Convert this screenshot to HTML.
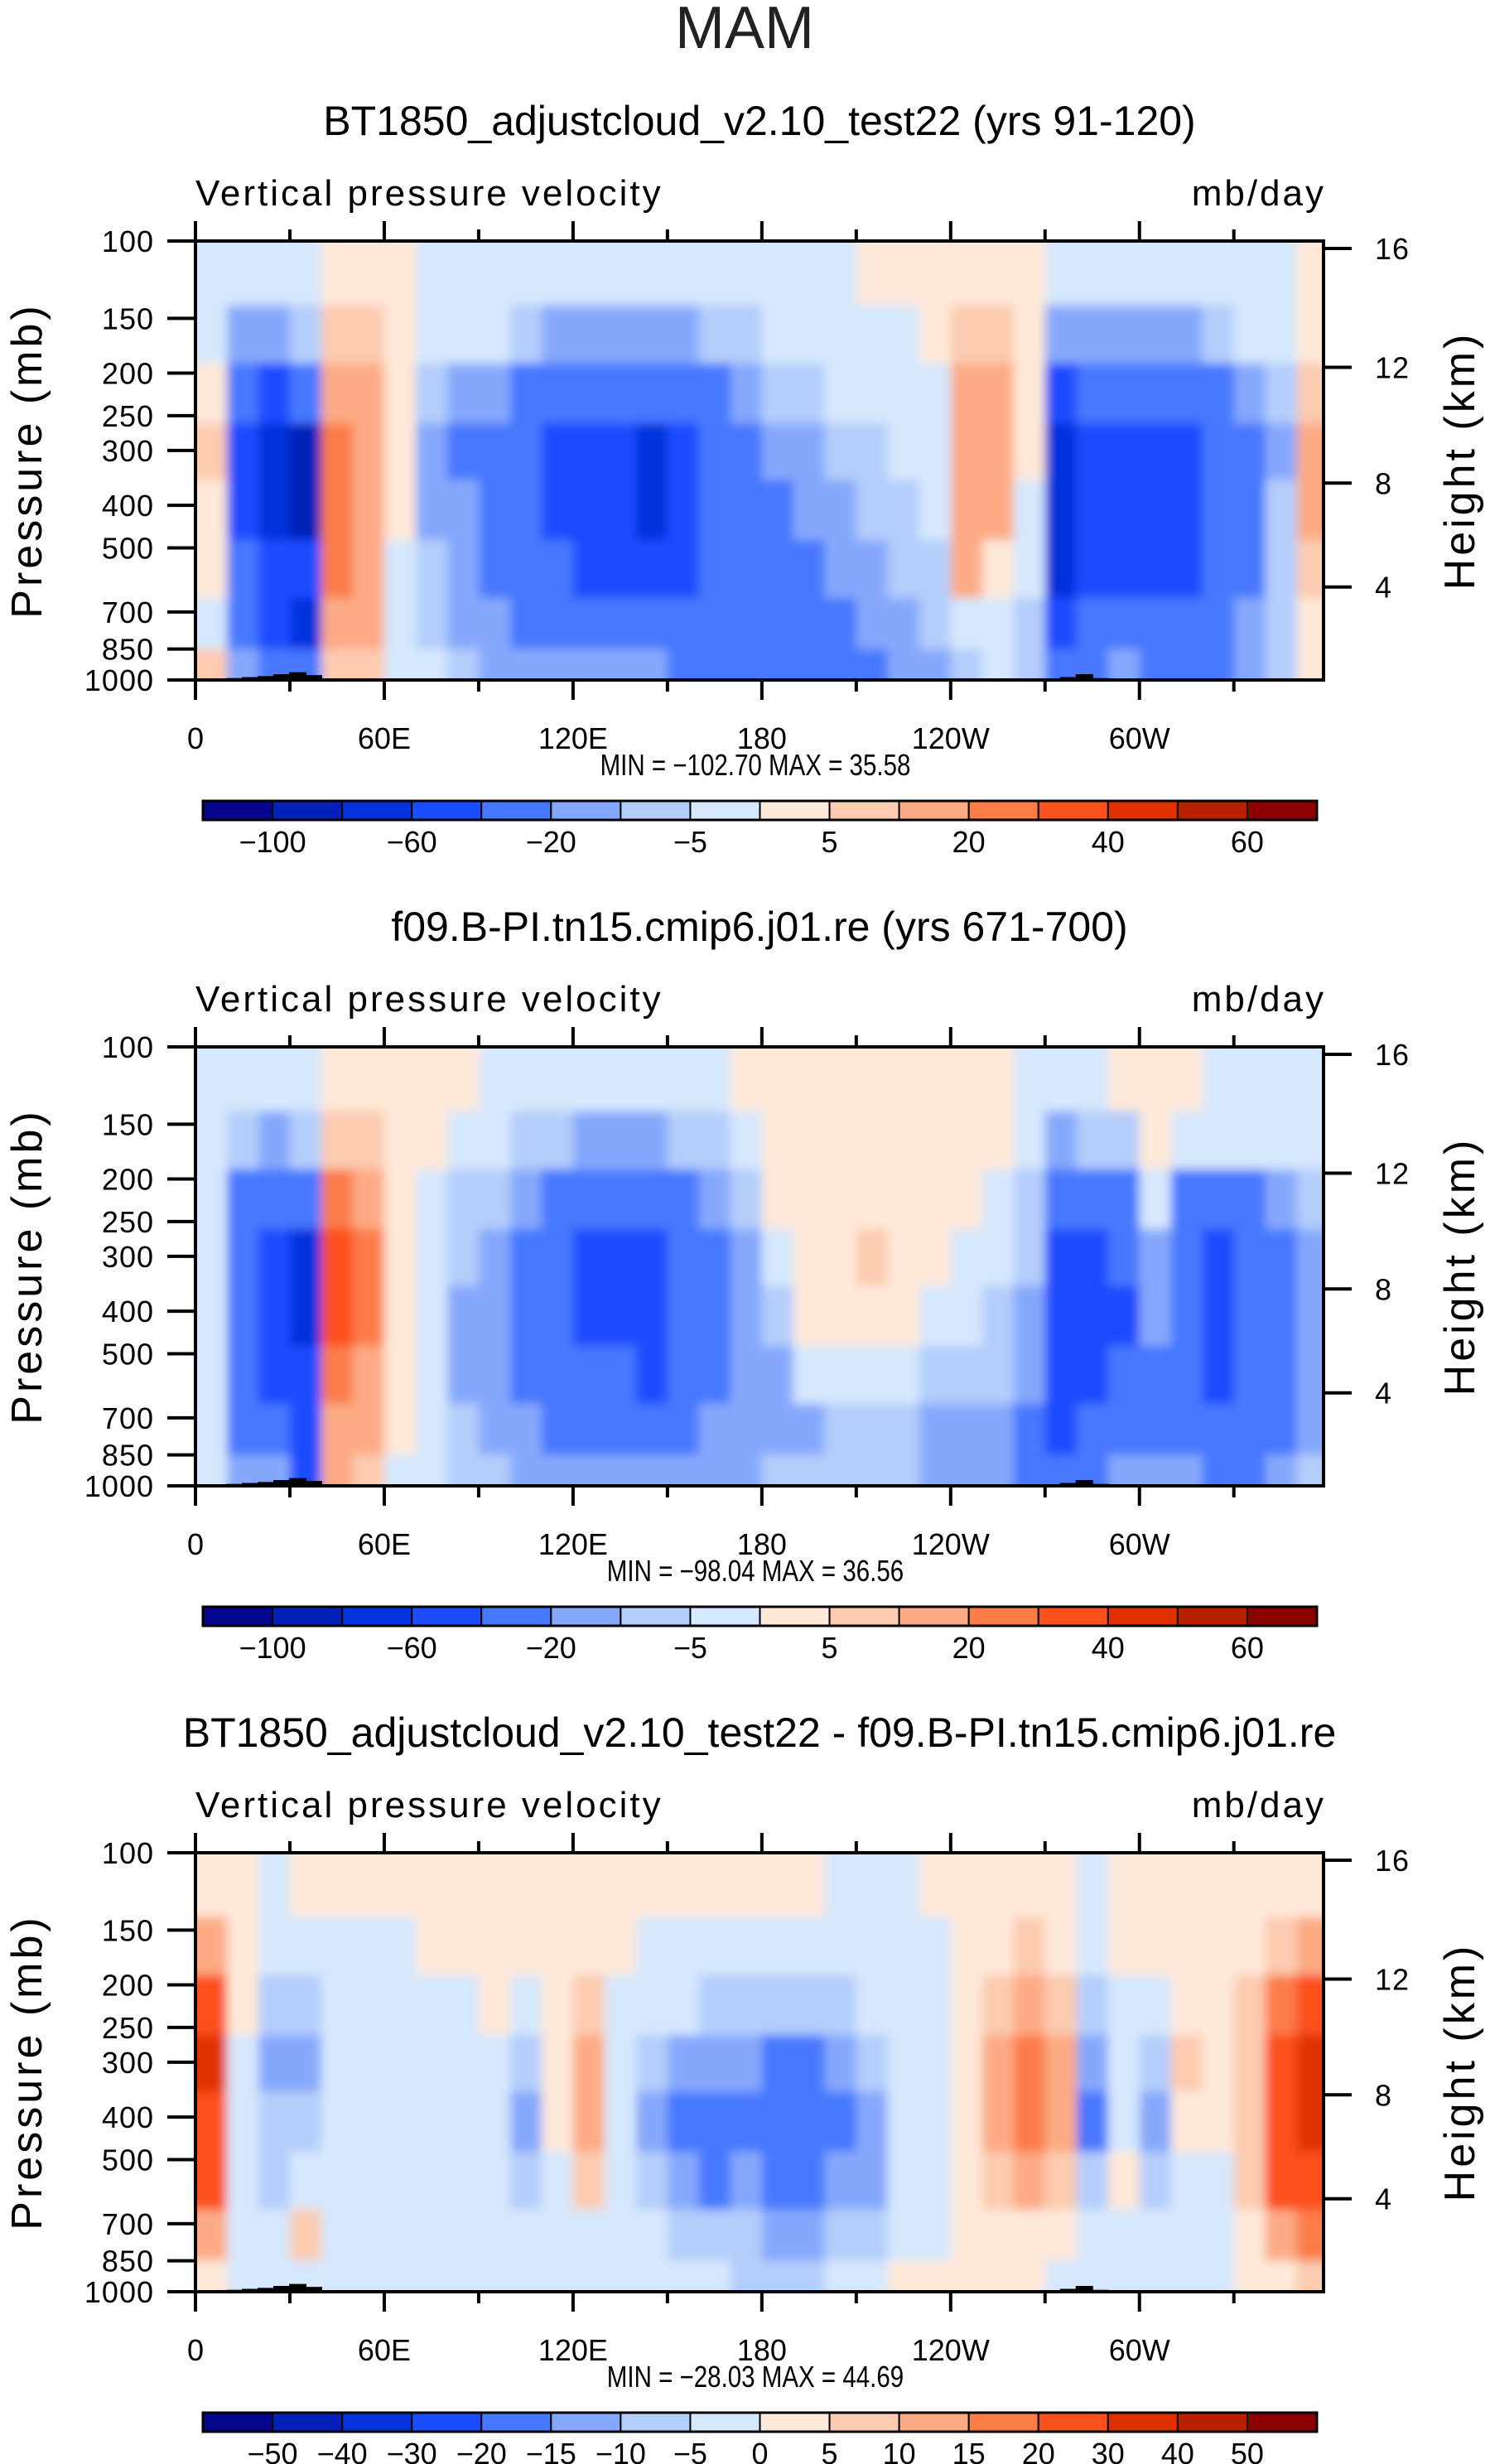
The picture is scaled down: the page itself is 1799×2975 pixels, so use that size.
<!DOCTYPE html>
<html><head><meta charset="utf-8"><style>
html,body{margin:0;padding:0;background:#fff;}
svg{display:block;font-family:"Liberation Sans",sans-serif;}
</style></head><body>
<svg id="fig" width="1799" height="2975" viewBox="0 0 1799 2975" xmlns="http://www.w3.org/2000/svg">
<defs><filter id="sm" x="0" y="0" width="1" height="1"><feGaussianBlur stdDeviation="6"/></filter></defs>
<text x="899" y="58" font-size="72" text-anchor="middle" fill="#222">MAM</text>
</svg>
<script>
// ---- data ----
const bandEdges=[100,140,190,260,350,480,650,850,1000];
const lonStep=10;
const levels12=[-100,-80,-60,-40,-20,-10,-5,0,5,10,20,30,40,50,60];
const levels3=[-50,-40,-30,-20,-15,-10,-5,0,5,10,15,20,30,40,50];
const cbLabels12=["−100","","−60","","−20","","−5","","5","","20","","40","","60"];
const cbLabels3=["−50","−40","−30","−20","−15","−10","−5","0","5","10","15","20","30","40","50"];
const palette=["#06068c","#0420b8","#0432dc","#1a4bff","#4678ff","#86a8fc","#b4cefb","#d6e8fd","#fee8d8","#fccbb0","#fcaa84","#fc7c48","#fc501e","#e03000","#b82000","#8b0000"];
const pTicks=[100,150,200,250,300,400,500,700,850,1000];
const hTicks=[16,12,8,4];
const hTickP=[104,194,356,614];
const lonTicks=[0,60,120,180,240,300];
const lonLabels=["0","60E","120E","180","120W","60W"];
const terrainLon=[10,15,20,25,30,35,40,275,280,285,290,300,310];
const terrainTop=[990,985,980,970,960,975,992,985,970,990,993,993,993];
const field1=[
[-3,-3,3,5,3,3,-3,5],[-3,-15,-30,-45,-45,-35,-30,-15],[-3,-15,-50,-70,-70,-60,-45,-25],[-3,-8,-40,-85,-85,-60,-70,-40],
[3,5,15,25,25,20,10,5],[3,5,10,15,15,10,10,5],[3,3,3,3,3,-3,-3,-3],[-3,-3,-8,-15,-12,-8,-8,-5],
[-3,-3,-15,-30,-20,-20,-15,-10],[-3,-5,-20,-25,-25,-25,-20,-15],[-3,-10,-25,-40,-40,-35,-25,-15],[-3,-15,-30,-45,-45,-40,-25,-15],
[-3,-20,-40,-50,-50,-45,-30,-15],[-5,-20,-40,-55,-60,-50,-30,-20],[-5,-20,-40,-65,-75,-55,-35,-20],[-5,-15,-30,-50,-55,-45,-35,-25],
[-3,-10,-25,-40,-40,-40,-35,-25],[-3,-8,-20,-30,-30,-30,-30,-25],[-3,-3,-10,-20,-25,-25,-30,-25],[-3,-3,-8,-15,-20,-25,-25,-25],
[-3,-3,-5,-10,-15,-20,-25,-25],[3,-3,-3,-8,-10,-15,-20,-25],[3,-3,-3,-3,-8,-10,-15,-20],[3,3,-3,-3,-3,-8,-10,-15],
[3,5,10,15,15,10,-3,-8],[3,5,10,15,12,3,-3,-5],[3,3,3,3,-3,-3,-8,-8],[-3,-15,-50,-70,-80,-70,-60,-40],
[-3,-15,-40,-50,-50,-50,-40,-25],[-3,-15,-40,-50,-60,-50,-35,-20],[-3,-15,-40,-50,-55,-50,-40,-25],[-3,-15,-35,-45,-50,-50,-40,-40],
[-3,-8,-30,-40,-40,-40,-35,-25],[-3,-5,-20,-25,-25,-25,-20,-15],[-3,-3,-8,-12,-10,-8,-8,-8],[3,3,5,10,10,5,3,3]];
const field2=[
[-3,-3,-3,-3,-3,-3,-3,-3],[-3,-10,-30,-40,-40,-35,-25,-15],[-3,-15,-40,-50,-50,-45,-35,-20],[-3,-8,-30,-65,-65,-60,-60,-50],
[3,5,20,30,35,25,15,10],[3,5,10,20,20,15,10,5],[3,3,3,3,3,3,3,-3],[3,3,-3,-3,-3,-3,-3,-3],
[3,-3,-8,-10,-12,-12,-10,-8],[-3,-3,-10,-20,-20,-20,-15,-10],[-3,-8,-20,-35,-35,-30,-20,-15],[-3,-10,-30,-40,-40,-40,-25,-15],
[-3,-12,-35,-45,-45,-40,-25,-15],[-3,-12,-35,-45,-45,-40,-25,-15],[-3,-12,-35,-45,-50,-45,-25,-15],[-3,-10,-25,-40,-40,-35,-25,-15],
[-3,-8,-20,-25,-25,-25,-20,-15],[3,-3,-8,-15,-15,-20,-20,-15],[3,3,3,-3,-8,-15,-20,-10],[3,3,3,3,3,-3,-15,-8],
[3,3,3,3,3,-3,-10,-8],[3,3,3,5,3,-3,-10,-8],[3,3,3,3,3,-3,-10,-10],[3,3,3,3,-3,-8,-15,-15],
[3,3,3,-3,-3,-10,-15,-15],[3,3,-3,-3,-8,-10,-20,-20],[-3,-3,-8,-10,-15,-20,-25,-25],[-3,-15,-40,-60,-60,-60,-50,-40],
[-3,-10,-35,-50,-50,-50,-40,-25],[3,-8,-25,-40,-45,-40,-30,-20],[3,3,-3,-15,-20,-25,-25,-15],[3,-3,-25,-40,-40,-40,-30,-20],
[-3,-3,-25,-45,-45,-45,-40,-25],[-3,-3,-25,-40,-40,-40,-30,-25],[-3,-3,-20,-30,-30,-30,-25,-20],[-3,-3,-10,-20,-20,-20,-15,-8]];
const field3=[
[3,10,20,30,25,20,10,3],[3,3,3,-3,-3,-3,-3,-3],[-3,-3,-10,-12,-10,-8,-3,-3],[3,-3,-8,-12,-8,-3,5,-3],
[3,-3,-3,-3,-3,-3,-3,-3],[3,-3,-3,-3,-3,-3,-3,-3],[3,-3,-3,-3,-3,-3,-3,-3],[3,3,-3,-3,-3,-3,-3,-3],
[3,3,-3,-3,-3,-3,-3,-3],[3,3,3,-3,-3,-3,-3,-3],[3,3,-3,-10,-15,-8,-3,-3],[3,3,3,3,3,-3,-3,-3],
[3,3,5,12,12,5,-3,-3],[3,3,-3,-3,-3,-3,-3,-3],[3,-3,-3,-10,-12,-10,-5,-3],[3,-3,-5,-15,-20,-15,-8,-3],
[3,-3,-8,-15,-20,-20,-10,-5],[3,-3,-8,-15,-20,-15,-10,-8],[3,-3,-10,-20,-20,-20,-15,-8],[3,-3,-10,-20,-20,-20,-15,-8],
[-3,-3,-8,-15,-20,-15,-10,-5],[-3,-3,-5,-10,-12,-12,-8,-3],[-3,-3,-3,-3,-3,-3,-3,3],[3,-3,-3,-3,-3,-3,-3,3],
[3,3,3,3,3,3,3,3],[3,3,5,10,10,8,3,3],[3,5,10,15,15,10,3,3],[3,3,8,12,10,5,3,-3],
[-3,-3,-10,-15,-20,-10,-3,-3],[3,3,-3,-3,-3,3,-3,-3],[3,3,-3,-10,-12,-8,-3,-3],[3,3,3,5,3,-3,-5,-3],
[3,3,3,3,3,-3,-3,-3],[3,3,5,8,8,5,3,3],[3,5,15,25,25,20,10,3],[3,10,25,35,35,25,15,5]];
const titles=["BT1850_adjustcloud_v2.10_test22 (yrs 91-120)","f09.B-PI.tn15.cmip6.j01.re (yrs 671-700)","BT1850_adjustcloud_v2.10_test22 - f09.B-PI.tn15.cmip6.j01.re"];
const minVals=["−102.70","−98.04","−28.03"];
const maxVals=["35.58","36.56","44.69"];

// ---- drawing ----
const NS="http://www.w3.org/2000/svg";
const svg=document.getElementById('fig');
function el(tag,attrs,parent,txt){const e=document.createElementNS(NS,tag);for(const k in attrs)e.setAttribute(k,attrs[k]);if(txt!==undefined)e.textContent=txt;(parent||svg).appendChild(e);return e;}
const L=236,R=1598,W=R-L,H=530;
function xs(lon){return L+lon/358.5*W;}
function colorFor(v,lev){let i=0;while(i<lev.length&&v>=lev[i])i++;return palette[i];}

function panel(k,field,lev,cbl){
  const off=k*973, T=291+off, B=T+H;
  const ys=p=>T+Math.log10(p/100)*H;
  const g=el('g',{});
  
  
  const t=el('text',{x:917,y:163+off,'font-size':50,'text-anchor':'middle',fill:'#000'},g,titles[k]);
  
  
  const v=el('text',{x:236,y:248+off,'font-size':44,fill:'#000','letter-spacing':'3'},g,'Vertical pressure velocity');
  
  
  const u=el('text',{x:1601,y:248+off,'font-size':44,'text-anchor':'end',fill:'#000','letter-spacing':'3'},g,'mb/day');
  
  
  const cid='clip'+k;
  const cp=el('clipPath',{id:cid},g);el('rect',{x:L,y:T,width:W,height:H},cp);
  const cg=el('g',{'clip-path':'url(#'+cid+')'},g);
  const fg=el('g',{filter:'url(#sm)'},cg);
  
  
  el('rect',{x:L-20,y:T-20,width:W+40,height:H+40,fill:palette[7]},fg);
  field.forEach((col,ci)=>{col.forEach((val,bi)=>{
    const x0=xs(ci*lonStep),x1=xs((ci+1)*lonStep);
    const y0=ys(bandEdges[bi]),y1=ys(bandEdges[bi+1]);
    const ex0=ci===0?-20:0, ex1=ci===field.length-1?20:0;
    const ey0=bi===0?-20:0, ey1=bi===col.length-1?20:0;
    const r=el('rect',{x:x0+ex0,y:y0+ey0,width:x1-x0+1+ex1-ex0,height:y1-y0+1+ey1-ey0,fill:colorFor(val,lev)},fg);
    
    
  });});
  terrainLon.forEach((lon,i)=>{
    const tr=el('rect',{x:xs(lon)-1,y:ys(terrainTop[i]),width:xs(lon+5)-xs(lon)+2,height:B-ys(terrainTop[i]),fill:'#000'},cg);
    
    
  });
  const fr=el('rect',{x:L,y:T,width:W,height:H,fill:'none',stroke:'#000','stroke-width':4},g);
  
  
  for(let lon=0;lon<=330;lon+=30){
    const maj=lon%60===0, x=xs(lon), len=maj?24:14;
    el('line',{x1:x,y1:T,x2:x,y2:T-len,stroke:'#000','stroke-width':4},g);
    el('line',{x1:x,y1:B,x2:x,y2:B+len,stroke:'#000','stroke-width':4},g);
  }
  lonTicks.forEach((lon,i)=>{
    const tx=el('text',{x:xs(lon),y:904+off,'font-size':36,'text-anchor':'middle',fill:'#000'},g,lonLabels[i]);
    
    
  });
  pTicks.forEach(p=>{
    const y=ys(p);
    el('line',{x1:L-34,y1:y,x2:L,y2:y,stroke:'#000','stroke-width':4},g);
    const ty=el('text',{x:L-50,y:y+13,'font-size':36,'text-anchor':'end',fill:'#000','letter-spacing':'1'},g,String(p));
    
    
  });
  hTicks.forEach((h,i)=>{
    const y=ys(hTickP[i]);
    el('line',{x1:R,y1:y,x2:R+34,y2:y,stroke:'#000','stroke-width':4},g);
    const th=el('text',{x:1660,y:y+13,'font-size':36,fill:'#000','letter-spacing':'1'},g,String(h));
    
    
  });
  const ya=el('text',{x:0,y:0,'font-size':52,'text-anchor':'middle',fill:'#000','letter-spacing':'4',transform:'translate(50,'+(556+off)+') rotate(-90)'},g,'Pressure (mb)');
  
  
  const ha=el('text',{x:0,y:0,'font-size':52,'text-anchor':'middle',fill:'#000','letter-spacing':'4',transform:'translate(1780,'+(556+off)+') rotate(-90)'},g,'Height (km)');
  
  
  const mm=el('text',{x:912,y:936+off,'font-size':36,'text-anchor':'middle',fill:'#000',transform:'translate(912,0) scale(0.82,1) translate(-912,0)'},g,'MIN = '+minVals[k]+'   MAX =   '+maxVals[k]);
  
  
  mm.setAttribute('xml:space','preserve');
  const cbx=245, cbw=1345, cby=967+off, cbh=23, bw=cbw/16;
  const cb=el('g',{},g);
  
  
  palette.forEach((c,i)=>{
    const r=el('rect',{x:cbx+i*bw,y:cby,width:bw,height:cbh,fill:c,stroke:'#000','stroke-width':2},cb);
    
    
  });
  el('rect',{x:cbx,y:cby,width:cbw,height:cbh,fill:'none',stroke:'#000','stroke-width':3},cb);
  cbl.forEach((s,i)=>{
    if(!s)return;
    const tl=el('text',{x:cbx+(i+1)*bw,y:cby+62,'font-size':36,'text-anchor':'middle',fill:'#000'},cb,s);
    
    
  });
}
panel(0,field1,levels12,cbLabels12);
panel(1,field2,levels12,cbLabels12);
panel(2,field3,levels3,cbLabels3);
</script>
</body></html>
